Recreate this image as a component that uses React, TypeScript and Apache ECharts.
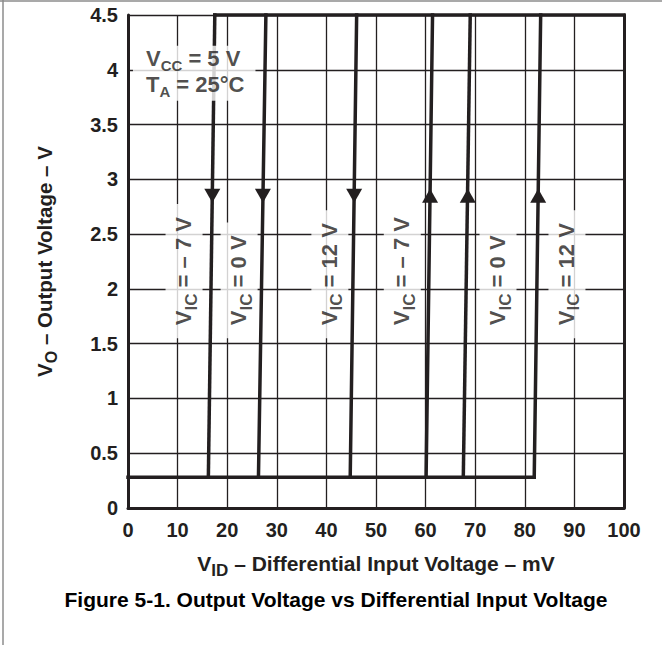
import { useEffect, useRef } from "react";
import * as echarts from "echarts";

// ---- axis ranges ----
const X_MIN = 0;
const X_MAX = 100;
const X_STEP = 10;
const Y_MIN = 0;
const Y_MAX = 4.5;
const Y_STEP = 0.5;

// ---- output levels (V) ----
const HIGH_LEVEL = 4.5;
const LOW_LEVEL = 0.28;

// ---- transitions for VIC = -7 V, 0 V, 12 V (mV) ----
const vicConditions = ["– 7 V", "0 V", "12 V"];
const fallingTopX = [17.5, 27.8, 46.1];
const fallingBottomX = [16.2, 26.3, 44.8];
const risingBottomX = [60.1, 67.6, 81.9];
const risingTopX = [61.4, 69.0, 83.2];

// ---- direction arrows ----
const ARROW_Y = 2.85;
const fallingArrowX = [17.0, 27.2, 45.6];
const risingArrowX = [60.9, 68.5, 82.7];

// ---- curve labels ----
const fallingLabelX = [11.3, 22.4, 40.7];
const risingLabelX = [55.3, 74.6, 88.5];
const LABEL_Y = 1.55;

// ---- conditions note ----
const NOTE_X = 1.0;
const NOTE_Y = 4.22;
const noteLines = [
  ["V", "CC", " = 5 V"],
  ["T", "A", " = 25°C"],
];

const TITLE = "Figure 5-1. Output Voltage vs Differential Input Voltage";

const FONT = "'Liberation Sans', Arial, Helvetica, sans-serif";
const INK = "#231f20";

const rich = (size: number, sub: number, lh: number, subPad: number) => ({
  v: { fontFamily: FONT, fontSize: size, fontWeight: "bold", color: INK, lineHeight: lh, verticalAlign: "top" },
  s: { fontFamily: FONT, fontSize: sub, fontWeight: "bold", color: INK, lineHeight: sub - 1, padding: [subPad, 0, 0, 0], verticalAlign: "top" },
});

export default function App() {
  const ref = useRef<HTMLDivElement>(null);

  useEffect(() => {
    if (!ref.current) return;
    const chart = echarts.init(ref.current, null, { renderer: "svg" });

    const curve = (data: number[][]) => ({
      type: "line",
      data,
      symbol: "none",
      showSymbol: false,
      clip: false,
      silent: true,
      z: 3,
      lineStyle: { color: INK, width: 3.5, cap: "square" },
    });

    const series: any[] = [];
    series.push(curve([[fallingTopX[0], HIGH_LEVEL], [X_MAX, HIGH_LEVEL]]));
    series.push(curve([[X_MIN, LOW_LEVEL], [risingBottomX[risingBottomX.length - 1], LOW_LEVEL]]));
    for (let i = 0; i < vicConditions.length; i++) {
      series.push(curve([[fallingTopX[i], HIGH_LEVEL], [fallingBottomX[i], LOW_LEVEL]]));
      series.push(curve([[risingBottomX[i], LOW_LEVEL], [risingTopX[i], HIGH_LEVEL]]));
    }

    series.push({
      type: "scatter",
      symbol: "triangle",
      symbolSize: [16, 14],
      silent: true,
      z: 4,
      itemStyle: { color: INK, opacity: 1 },
      data: [
        ...fallingArrowX.map((x) => ({ value: [x, ARROW_Y], symbolRotate: 180 })),
        ...risingArrowX.map((x) => ({ value: [x, ARROW_Y], symbolRotate: 0 })),
      ],
    });

    const labelTexts = [...vicConditions, ...vicConditions].map(
      (c) => `{v|V}{s|IC}{v| = ${c}}`
    );
    const labelXs = [...fallingLabelX, ...risingLabelX];

    series.push({
      type: "scatter",
      symbolSize: 1,
      silent: true,
      z: 6,
      itemStyle: { color: "rgba(0,0,0,0)" },
      label: {
        show: true,
        position: "inside",
        rotate: 90,
        align: "left",
        verticalAlign: "middle",
        backgroundColor: "#ffffff",
        padding: [7, 13, 7, 13],
        rich: rich(22, 17, 23, 10),
      },
      data: labelXs.map((x, i) => ({
        value: [x, LABEL_Y],
        label: { formatter: labelTexts[i] },
      })),
    });

    series.push({
      type: "scatter",
      symbolSize: 1,
      silent: true,
      z: 6,
      itemStyle: { color: "rgba(0,0,0,0)" },
      label: {
        show: true,
        position: "inside",
        align: "left",
        verticalAlign: "top",
        backgroundColor: "#ffffff",
        padding: [2, 11, 1, 13],
        rich: rich(22, 15, 26, 10),
        formatter: noteLines.map((l) => `{v|${l[0]}}{s|${l[1]}}{v|${l[2]}}`).join("\n"),
      },
      data: [[NOTE_X, NOTE_Y]],
    });

    const axisLabel = {
      fontFamily: FONT,
      fontSize: 20,
      fontWeight: "bold",
      color: INK,
    };
    const split = { show: true, lineStyle: { color: INK, width: 1.3 } };
    const frame = { show: true, lineStyle: { color: INK, width: 3 } };

    chart.setOption({
      animation: false,
      grid: { left: 128, right: 38, top: 15, bottom: 137, containLabel: false },
      xAxis: {
        type: "value",
        min: X_MIN,
        max: X_MAX,
        interval: X_STEP,
        axisLine: frame,
        axisTick: { show: false },
        splitLine: split,
        axisLabel: { ...axisLabel, margin: 12 },
        name: "{v|V}{s|ID}{v| – Differential Input Voltage – mV}",
        nameLocation: "middle",
        nameGap: 45,
        nameTextStyle: { rich: rich(21, 17, 22, 9) },
      },
      yAxis: [
        {
          type: "value",
          min: Y_MIN,
          max: Y_MAX,
          interval: Y_STEP,
          axisLine: frame,
          axisTick: { show: false },
          splitLine: split,
          axisLabel: { ...axisLabel, margin: 10 },
          name: "{v|V}{s|O}{v| – Output Voltage – V}",
          nameLocation: "middle",
          nameRotate: 90,
          nameGap: 72,
          nameTextStyle: { rich: rich(20.5, 16, 22, 9) },
        },
        {
          type: "value",
          position: "right",
          min: Y_MIN,
          max: Y_MAX,
          interval: Y_STEP,
          axisLine: frame,
          axisTick: { show: false },
          axisLabel: { show: false },
          splitLine: { show: false },
        },
      ],
      graphic: [
        {
          type: "line",
          shape: { x1: 3, y1: 0, x2: 3, y2: 645 },
          style: { stroke: "#8c8c8c", lineWidth: 1.5 },
          silent: true,
        },
        {
          type: "line",
          shape: { x1: 0, y1: 1, x2: 662, y2: 1 },
          style: { stroke: "#8c8c8c", lineWidth: 1.5 },
          silent: true,
        },
        {
          type: "text",
          x: 336,
          y: 599,
          silent: true,
          style: {
            text: TITLE,
            fontFamily: FONT,
            fontSize: 21,
            fontWeight: "bold",
            fill: "#000000",
            align: "center",
            verticalAlign: "middle",
          },
        },
      ],
      series,
    });

    return () => chart.dispose();
  }, []);

  return (
    <div
      ref={ref}
      style={{ position: "fixed", left: 0, top: 0, width: 662, height: 645, background: "#fff" }}
    />
  );
}
